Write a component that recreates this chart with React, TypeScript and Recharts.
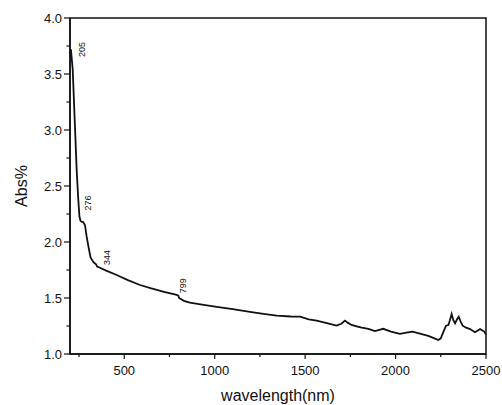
import { LineChart, Line, XAxis, YAxis, ReferenceArea } from 'recharts';

// UV-Vis-NIR absorbance spectrum
const wavelengths = [
  200, 205, 210, 215, 226, 237, 245, 252, 258, 265, 271, 276, 283, 292, 303, 314, 330, 344, 350, 366,
  400, 458, 520, 587, 650, 720, 790, 799, 803, 830, 863, 930, 1011, 1100, 1186, 1260, 1343, 1420, 1472,
  1520, 1564, 1620, 1674, 1700, 1720, 1735, 1757, 1790, 1813, 1850, 1886, 1932, 1975, 2024, 2060, 2094,
  2140, 2181, 2215, 2236, 2250, 2265, 2279, 2292, 2300, 2310, 2320, 2329, 2340, 2349, 2360, 2371, 2390,
  2412, 2439, 2455, 2467, 2480, 2490, 2500,
];
const absorbance = [
  3.68, 3.72, 3.63, 3.54, 3.09, 2.64, 2.4, 2.23, 2.19, 2.18, 2.18, 2.17, 2.15, 2.05, 1.95, 1.86, 1.82, 1.8, 1.78, 1.77,
  1.745, 1.705, 1.66, 1.616, 1.585, 1.555, 1.527, 1.52, 1.5, 1.475, 1.458, 1.44, 1.42, 1.4, 1.378, 1.36, 1.342, 1.335, 1.333,
  1.31, 1.298, 1.275, 1.253, 1.27, 1.298, 1.28, 1.259, 1.245, 1.235, 1.225, 1.205, 1.225, 1.2, 1.179, 1.19, 1.2,
  1.18, 1.161, 1.14, 1.125, 1.14, 1.2, 1.253, 1.259, 1.3, 1.357, 1.3, 1.274, 1.31, 1.333, 1.29, 1.253, 1.235,
  1.223, 1.194, 1.21, 1.223, 1.21, 1.2, 1.175,
];
const peakLabels = [205, 276, 344, 799];

const xTicks = [250, 500, 750, 1000, 1250, 1500, 1750, 2000, 2250, 2500];
const yTicks = [1, 1.25, 1.5, 1.75, 2, 2.25, 2.5, 2.75, 3, 3.25, 3.5, 3.75, 4];

const data = wavelengths.map((wl, i) => ({ wl, abs: absorbance[i] }));

const FONT = 'Arial, "Liberation Sans", sans-serif';
const INK = '#111';

// where each peak label sits relative to its point
const labelOffset: Record<number, [number, number]> = {
  205: [11, 0],
  276: [4.5, -20],
  344: [10.5, -7],
  799: [5, -10],
};

const XTick = (props: any) => {
  const { x, y, payload } = props;
  const major = payload.value % 500 === 0;
  return (
    <g>
      <line x1={x} y1={y} x2={x} y2={y + (major ? 5 : 3)} stroke={INK} strokeWidth={1.2} />
      {major && (
        <text x={x} y={y + 12} dy="0.71em" textAnchor="middle" fontSize={13} fontFamily={FONT} fill={INK}>
          {payload.value}
        </text>
      )}
    </g>
  );
};

const YTick = (props: any) => {
  const { x, y, payload } = props;
  const major = (payload.value * 2) % 1 === 0;
  return (
    <g>
      <line x1={x} y1={y} x2={x - (major ? 6 : 3.5)} y2={y} stroke={INK} strokeWidth={1.2} />
      {major && (
        <text x={x - 8} y={y} dy="0.355em" textAnchor="end" fontSize={13} fontFamily={FONT} fill={INK}>
          {payload.value.toFixed(1)}
        </text>
      )}
    </g>
  );
};

const PeakLabel = (props: any) => {
  const { cx, cy, payload, index } = props;
  if (!peakLabels.includes(payload.wl)) return <g key={index} />;
  const [dx, dy] = labelOffset[payload.wl] ?? [6, -8];
  const tx = cx + dx;
  const ty = cy + dy;
  return (
    <text
      key={index}
      x={tx}
      y={ty}
      transform={`rotate(-90 ${tx} ${ty})`}
      textAnchor="middle"
      dominantBaseline="central"
      fontSize={9}
      fontFamily={FONT}
      fill={INK}
    >
      {payload.wl}
    </text>
  );
};

export default function App() {
  return (
    <div style={{ position: 'absolute', left: 0, top: 0, width: 502, height: 405, background: '#fff' }}>
      <LineChart width={502} height={405} data={data} margin={{ top: 18, right: 16, bottom: 0, left: 0 }}>
        <XAxis
          xAxisId="bottom"
          dataKey="wl"
          type="number"
          domain={[200, 2500]}
          ticks={xTicks}
          interval={0}
          height={51}
          tickSize={0}
          tickMargin={0}
          tickLine={false}
          tick={<XTick />}
          axisLine={{ stroke: INK, strokeWidth: 1.5 }}
          label={{ value: 'wavelength(nm)', position: 'insideBottom', offset: 4, fontSize: 16, fontFamily: FONT, fill: INK }}
        />
        <XAxis
          xAxisId="top"
          orientation="top"
          dataKey="wl"
          type="number"
          domain={[200, 2500]}
          ticks={xTicks}
          interval={0}
          height={0}
          tickSize={2}
          tick={false}
          tickLine={{ stroke: '#999' }}
          axisLine={{ stroke: INK, strokeWidth: 1.5 }}
        />
        <YAxis
          yAxisId="left"
          type="number"
          domain={[1, 4]}
          ticks={yTicks}
          interval={0}
          width={70}
          tickSize={0}
          tickMargin={0}
          tickLine={false}
          tick={<YTick />}
          axisLine={{ stroke: INK, strokeWidth: 1.5 }}
          label={{
            value: 'Abs%',
            angle: -90,
            position: 'insideLeft',
            offset: 21,
            fontSize: 16,
            fontFamily: FONT,
            fill: INK,
            style: { textAnchor: 'middle' },
          }}
        />
        <YAxis
          yAxisId="right"
          orientation="right"
          type="number"
          domain={[1, 4]}
          ticks={yTicks}
          interval={0}
          width={0}
          mirror
          tickSize={3}
          tick={false}
          tickLine={{ stroke: INK, strokeWidth: 1.2 }}
          axisLine={{ stroke: INK, strokeWidth: 1.5 }}
        />
        {/* frame of the plot box */}
        <ReferenceArea
          xAxisId="bottom"
          yAxisId="left"
          x1={200}
          x2={2500}
          y1={1}
          y2={4}
          fill="none"
          fillOpacity={0}
          stroke={INK}
          strokeWidth={1.5}
          ifOverflow="visible"
        />
        {/* invisible twin so the top and right axes get drawn */}
        <Line
          xAxisId="top"
          yAxisId="right"
          type="linear"
          dataKey="abs"
          stroke="none"
          dot={false}
          activeDot={false}
          legendType="none"
          isAnimationActive={false}
        />
        <Line
          xAxisId="bottom"
          yAxisId="left"
          type="linear"
          dataKey="abs"
          stroke={INK}
          strokeWidth={1.8}
          dot={PeakLabel}
          activeDot={false}
          isAnimationActive={false}
        />
      </LineChart>
    </div>
  );
}
